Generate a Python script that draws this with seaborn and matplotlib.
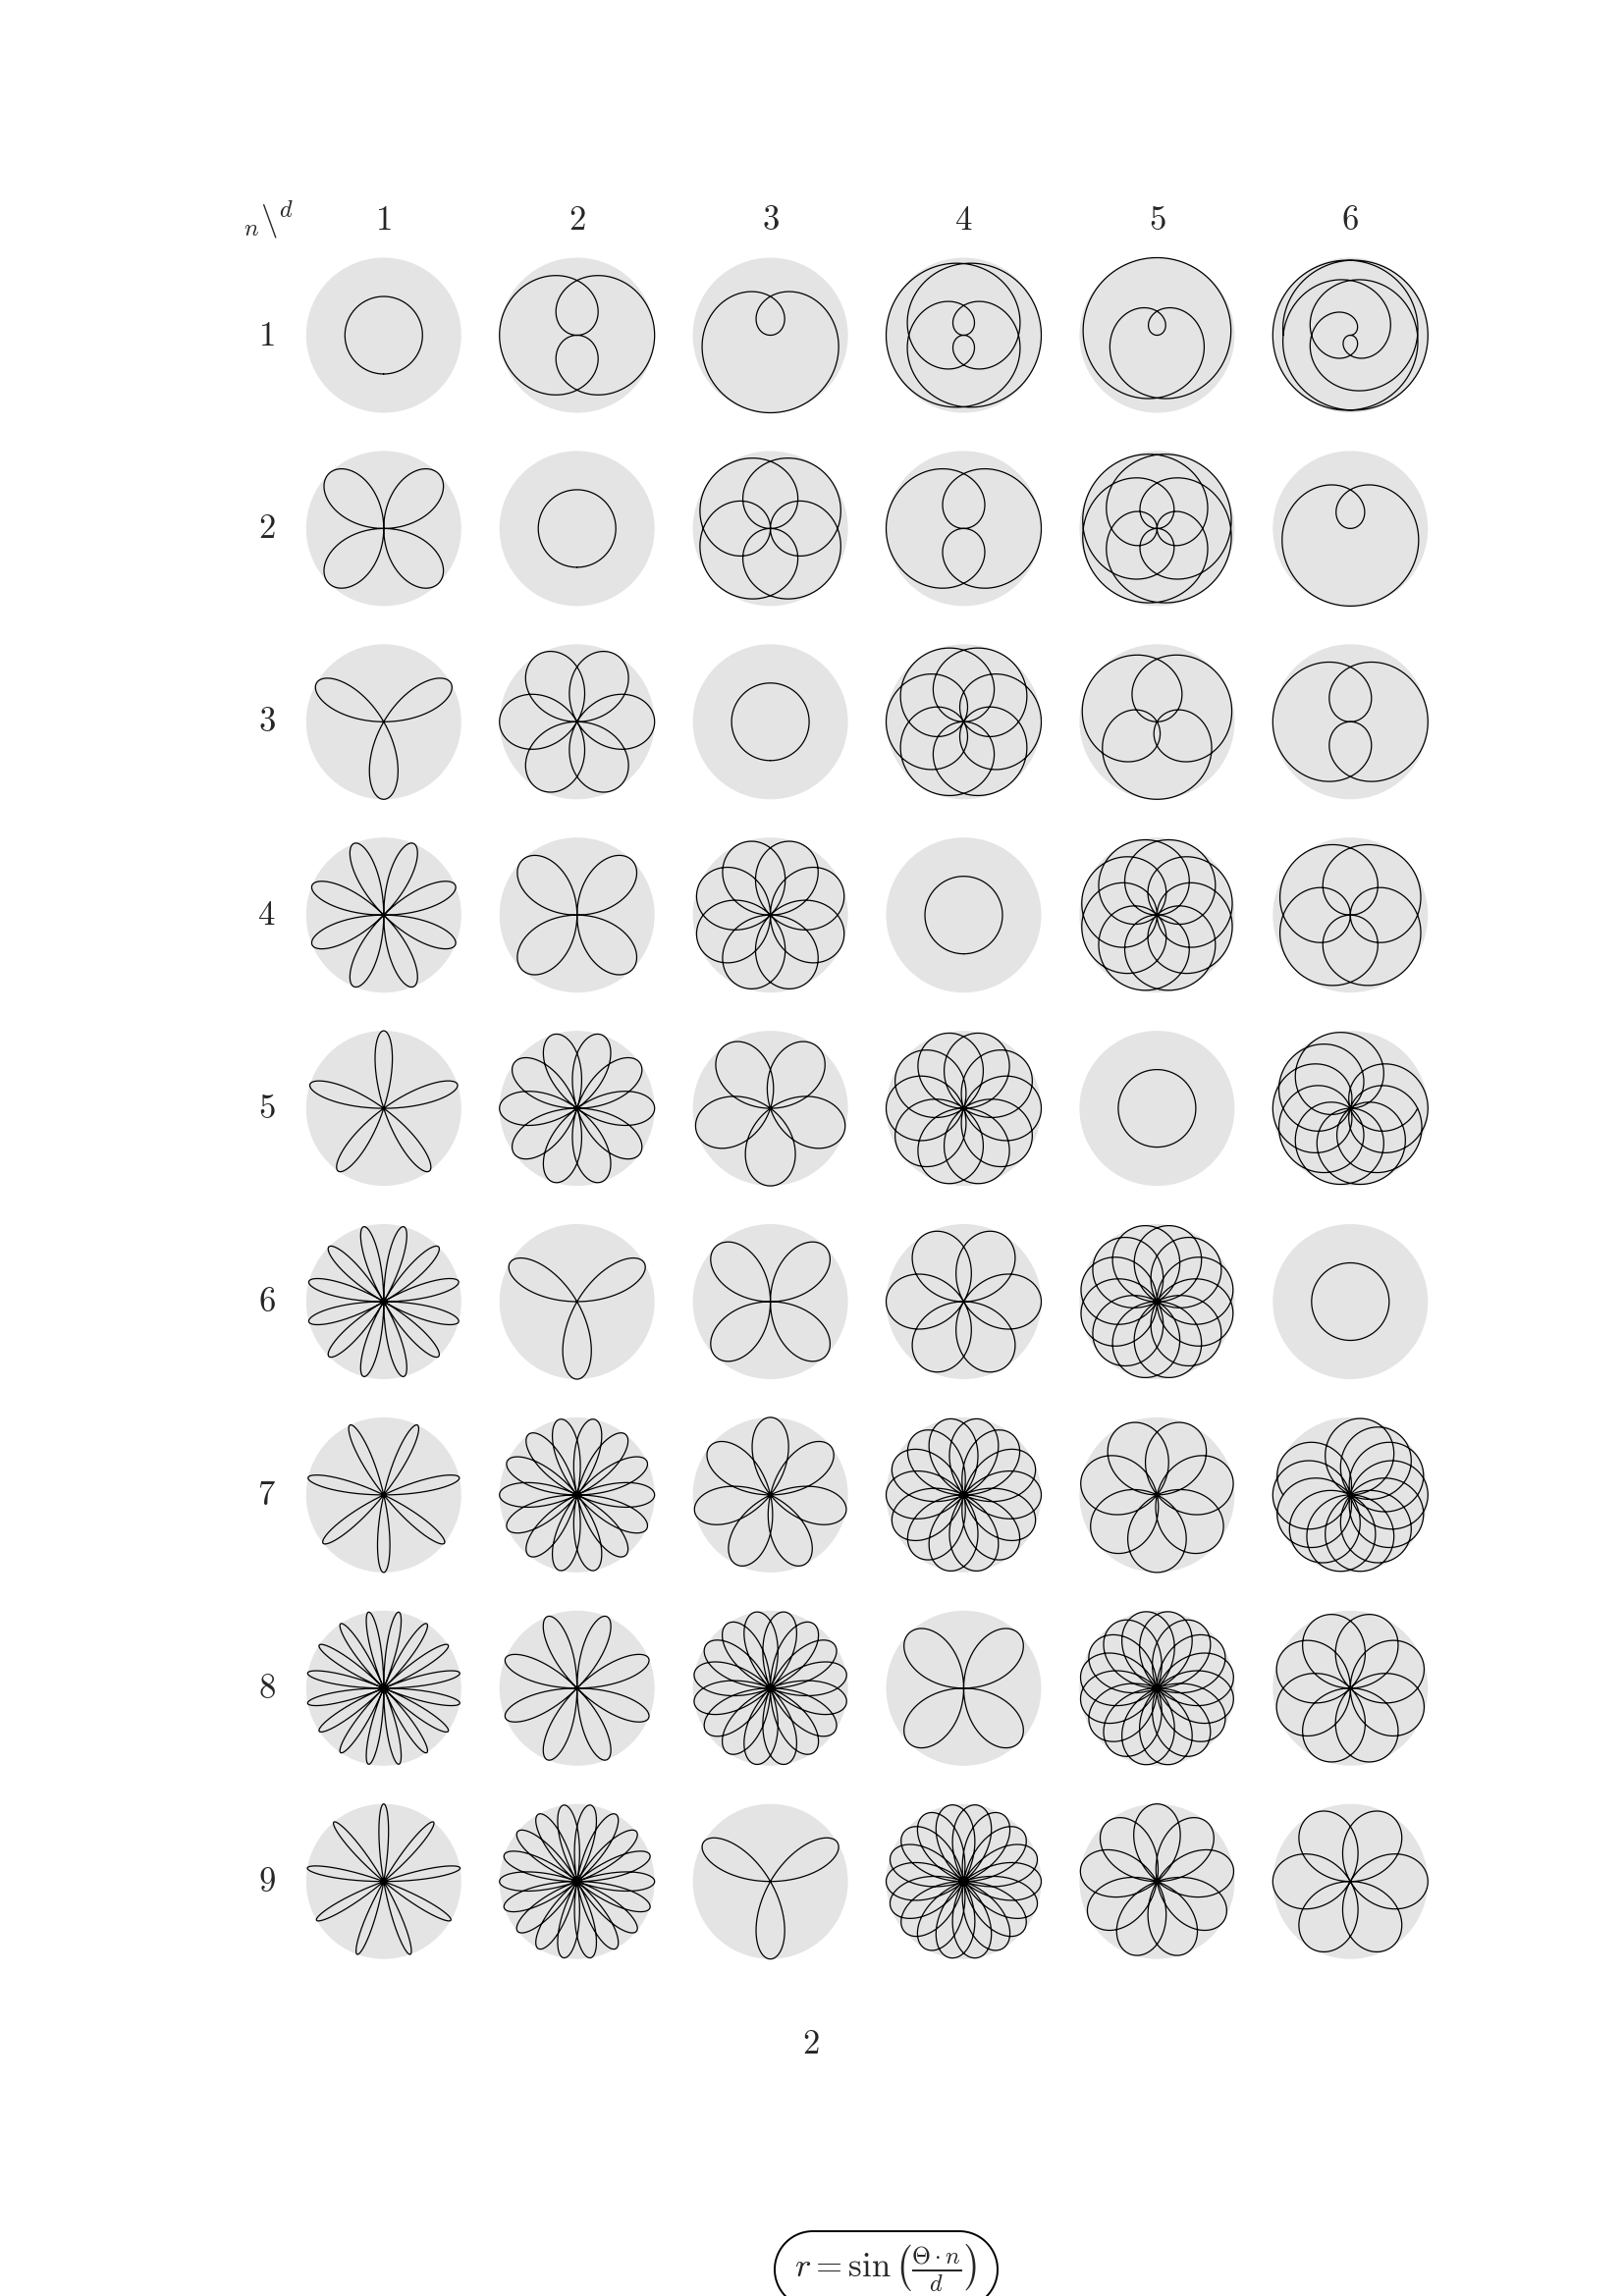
import numpy as np
import matplotlib
matplotlib.use('Agg')
import matplotlib.pyplot as plt
import matplotlib.patches as mpatches
from matplotlib.path import Path
from fractions import Fraction
import seaborn as sns

# ---- data -------------------------------------------------------------
n_values = [1, 2, 3, 4, 5, 6, 7, 8, 9]          # rows
d_values = [1, 2, 3, 4, 5, 6]                   # columns
row_labels = ['1', '2', '3', '4', '5', '6', '7', '8', '9']
col_labels = ['1', '2', '3', '4', '5', '6']
corner_label = r'${}_{n}\backslash^{d}$'
page_number = '2'
formula = r'$r = \sin\left(\frac{\Theta\cdot n}{d}\right)$'
theta_domain_max = 10 * np.pi     # the reference stops every curve at Theta = 10*pi

# ---- style ------------------------------------------------------------
sns.set_theme(style='white')
plt.rcParams['mathtext.fontset'] = 'cm'
plt.rcParams['font.family'] = ['DejaVu Serif']

W, H, DPI = 1654, 2339, 200
fig = plt.figure(figsize=(W / DPI, H / DPI), dpi=DPI)
fig.patch.set_facecolor('white')

X0, Y0, STEP = 390.8, 341.5, 196.9   # pixel centres of first cell and spacing
RPX = 79.0                           # disk radius in pixels
L = 1.12
side = 2 * L * RPX
DISK = '#e4e4e4'
LW = 0.45

for i, n in enumerate(n_values):
    for j, d in enumerate(d_values):
        cx = X0 + STEP * j
        cy = Y0 + STEP * i
        ax = fig.add_axes([(cx - side / 2) / W, 1 - (cy + side / 2) / H, side / W, side / H])
        ax.set_xlim(-L, L)
        ax.set_ylim(-L, L)
        ax.set_aspect('equal')
        ax.axis('off')
        ax.add_patch(mpatches.Circle((0, 0), 1, fc=DISK, ec='none', zorder=0))
        k = Fraction(n, d)
        p, q = k.numerator, k.denominator
        period = np.pi * q if (p * q) % 2 == 1 else 2 * np.pi * q
        tmax = min(period, theta_domain_max)
        npts = int(700 * tmax * max(1.0, n / d)) + 1
        theta = np.linspace(0, tmax, npts)
        r = np.sin(theta * n / d)
        x = r * np.cos(theta)
        y = r * np.sin(theta)
        if n == d:
            y = y - 0.5   # reference draws the n = d circle centred
        sns.lineplot(x=x, y=y, sort=False, estimator=None, color='black',
                     lw=LW, ax=ax, zorder=2)

def ftext(px, py, s, **kw):
    fig.text(px / W, 1 - py / H, s, ha='center', va='center', **kw)

for j, lab in enumerate(col_labels):
    ftext(X0 + STEP * j, 223.7, '$' + lab + '$', fontsize=12.5)
for i, lab in enumerate(row_labels):
    ftext(271.5, Y0 + STEP * i, '$' + lab + '$', fontsize=12.5)
ftext(273, 224, corner_label, fontsize=12.5)
ftext(826.3, 2082.2, '$' + page_number + '$', fontsize=12.5)

# formula in a pill-shaped box cut by the page bottom
bx0, bx1, btop, Rb = 789.0, 1016.0, 2273.0, 39.0
byc = btop + Rb
pts = []
cl = bx0 + Rb
for a in np.linspace(90, 270, 90):
    pts.append((cl + Rb * np.cos(np.radians(a)), byc - Rb * np.sin(np.radians(a))))
cr = bx1 - Rb
for a in np.linspace(-90, 90, 90):
    pts.append((cr + Rb * np.cos(np.radians(a)), byc - Rb * np.sin(np.radians(a))))
pts.append(pts[0])
verts = [(px / W, 1 - py / H) for px, py in pts]
fig.add_artist(mpatches.PathPatch(Path(verts), transform=fig.transFigure,
                                  fc='white', ec='black', lw=0.7))
ftext((bx0 + bx1) / 2, 2310, formula, fontsize=12.5)

fig.savefig('out.png', dpi=DPI, facecolor='white')
